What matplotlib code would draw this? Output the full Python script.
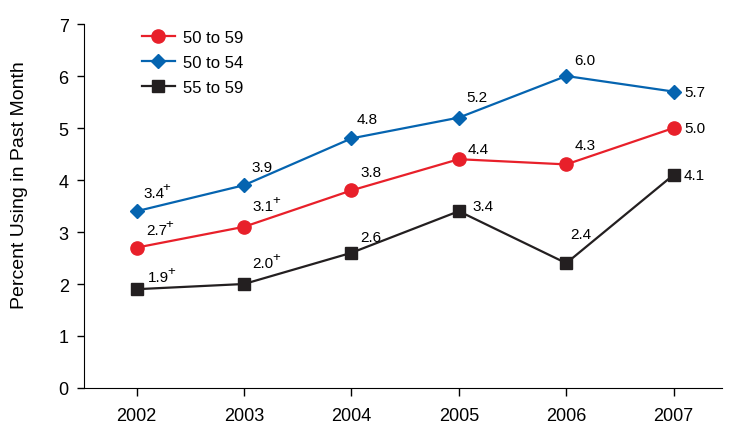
import matplotlib
matplotlib.use("Agg")
import matplotlib.pyplot as plt

years = ["2002", "2003", "2004", "2005", "2006", "2007"]
s_50_59 = [2.7, 3.1, 3.8, 4.4, 4.3, 5.0]
s_50_54 = [3.4, 3.9, 4.8, 5.2, 6.0, 5.7]
s_55_59 = [1.9, 2.0, 2.6, 3.4, 2.4, 4.1]
lab_50_59 = ["2.7", "3.1", "3.8", "4.4", "4.3", "5.0"]
lab_50_54 = ["3.4", "3.9", "4.8", "5.2", "6.0", "5.7"]
lab_55_59 = ["1.9", "2.0", "2.6", "3.4", "2.4", "4.1"]
sup_50_59 = [True, True, False, False, False, False]
sup_50_54 = [True, False, False, False, False, False]
sup_55_59 = [True, True, False, False, False, False]

plt.rcParams['font.family'] = ['Liberation Sans', 'DejaVu Sans']

fig = plt.figure(figsize=(7.44, 4.31), dpi=100)
ax = fig.add_axes([84/744, 1-389/431, (722-84)/744, (389-25)/431])

x = list(range(len(years)))
red = '#E8202A'
blue = '#0564B0'
black = '#231F20'

ax.plot(x, s_50_59, color=red, lw=1.6, marker='o', ms=9.5, label='50 to 59')
ax.plot(x, s_50_54, color=blue, lw=1.6, marker='D', ms=7.5, label='50 to 54')
ax.plot(x, s_55_59, color=black, lw=1.6, marker='s', ms=8.5, label='55 to 59')

off_50_54 = [(17, 18), (18, 18), (16, 19), (18, 21), (19, 16), (21, 0)]
off_50_59 = [(20, 18), (19, 21), (20, 18), (19, 10), (19, 19), (21, 0)]
off_55_59 = [(22, 12), (19, 21), (19, 16), (24, 5), (15, 29), (21, 0)]

for vals, labs, sups, offs in [(s_50_54, lab_50_54, sup_50_54, off_50_54),
                               (s_50_59, lab_50_59, sup_50_59, off_50_59),
                               (s_55_59, lab_55_59, sup_55_59, off_55_59)]:
    for i, (v, l, s, o) in enumerate(zip(vals, labs, sups, offs)):
        ax.annotate(l, (x[i], v), xytext=o, textcoords='offset pixels',
                    ha='center', va='center', fontsize=11, color='black')
        if s:
            ax.annotate('+', (x[i], v), xytext=(o[0] + 13, o[1] + 6),
                        textcoords='offset pixels', ha='center', va='center',
                        fontsize=9.5, color='black')

ax.set_xlim(-0.49, 5.45)
ax.set_ylim(0, 7)
ax.set_xticks(x)
ax.set_xticklabels(years, fontsize=13)
ax.set_yticks(range(0, 8))
ax.tick_params(axis='y', labelsize=13, length=5, width=1, direction='out', pad=6)
ax.tick_params(axis='x', length=6, width=1, direction='out', pad=8)
ax.spines['top'].set_visible(False)
ax.spines['right'].set_visible(False)
ax.set_ylabel('Percent Using in Past Month', fontsize=14)
ax.yaxis.set_label_coords(-0.088, 0.56)

leg = ax.legend(loc='upper left', bbox_to_anchor=(0.08, 1.002), frameon=False,
                fontsize=12, handlelength=2.0, handletextpad=0.45,
                labelspacing=0.6, borderaxespad=0.0)

fig.savefig('out.png', dpi=100)
